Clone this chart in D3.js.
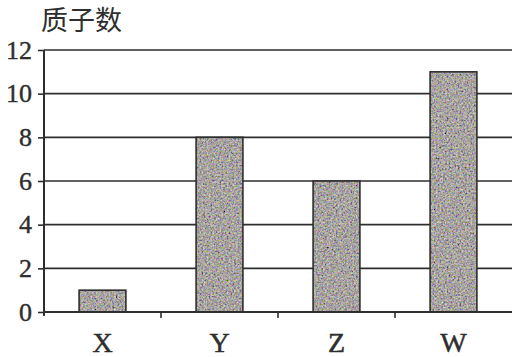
<!DOCTYPE html>
<html>
<head>
<meta charset="utf-8">
<script src="https://cdn.jsdelivr.net/npm/d3@7"></script>
<style>
    html, body { margin: 0; padding: 0; background: #fff; }
</style>
</head>
<body>
<div id="chart-container"></div>
<script>
// Data
const categories = ["X", "Y", "Z", "W"];
const protonCounts = [1, 8, 6, 11];
const yTicks = [0, 2, 4, 6, 8, 10, 12];
const yTitle = "质子数";

function renderChart() {
    const width = 515;
    const height = 357;
    const marginTop = 50;
    const marginRight = 3;
    const marginBottom = 45;
    const marginLeft = 44;
    const ink = "#2e2e2e";
    const serif = "'Liberation Serif', 'DejaVu Serif', serif";

    const svg = d3.create("svg")
        .attr("viewBox", [0, 0, width, height])
        .attr("width", width)
        .attr("height", height);

    // Grainy fill for the bars (coloured noise clipped to the rect)
    const defs = svg.append("defs");
    const grain = defs.append("filter")
        .attr("id", "grain")
        .attr("x", 0).attr("y", 0)
        .attr("width", 1).attr("height", 1);
    grain.append("feTurbulence")
        .attr("type", "fractalNoise")
        .attr("baseFrequency", 0.55)
        .attr("numOctaves", 3)
        .attr("seed", 7)
        .attr("result", "noise");
    grain.append("feColorMatrix")
        .attr("in", "noise")
        .attr("type", "matrix")
        .attr("values", "0.9 0.4 0 0 -0.26  0.2 0.9 0.2 0 -0.28  0.3 0 0.9 0 -0.24  0 0 0 0 1")
        .attr("result", "tint");
    grain.append("feComposite")
        .attr("in", "tint")
        .attr("in2", "SourceGraphic")
        .attr("operator", "in");

    const x = d3.scaleBand()
        .domain(categories)
        .range([marginLeft, width - marginRight])
        .paddingInner(0.6)
        .paddingOuter(0.3);

    const y = d3.scaleLinear([0, 12], [height - marginBottom, marginTop]);

    // Y ticks and labels
    svg.append("g")
        .attr("transform", `translate(${marginLeft},0)`)
        .call(d3.axisLeft(y).tickValues(yTicks).tickSize(6).tickPadding(6))
        .call(g => g.select(".domain").remove())
        .call(g => g.selectAll(".tick line").attr("stroke", ink).attr("stroke-width", 1.6))
        .call(g => g.selectAll(".tick text")
            .attr("fill", ink)
            .attr("stroke", ink)
            .attr("stroke-width", 0.4)
            .attr("font-family", serif)
            .attr("font-size", "26px"));

    // Gridlines
    svg.append("g")
        .selectAll("line")
        .data(yTicks.filter(d => d > 0))
        .join("line")
        .attr("x1", marginLeft)
        .attr("x2", width - marginRight)
        .attr("y1", d => y(d))
        .attr("y2", d => y(d))
        .attr("stroke", ink)
        .attr("stroke-width", 1.6);

    // Bars
    svg.append("g")
        .selectAll("rect")
        .data(protonCounts)
        .join("rect")
        .attr("x", (d, i) => x(categories[i]))
        .attr("y", d => y(d))
        .attr("width", x.bandwidth())
        .attr("height", d => y(0) - y(d))
        .attr("fill", "#888")
        .attr("filter", "url(#grain)");

    svg.append("g")
        .selectAll("rect")
        .data(protonCounts)
        .join("rect")
        .attr("x", (d, i) => x(categories[i]))
        .attr("y", d => y(d))
        .attr("width", x.bandwidth())
        .attr("height", d => y(0) - y(d))
        .attr("fill", "none")
        .attr("stroke", ink)
        .attr("stroke-width", 1.6);

    // X axis with ticks between categories
    const xAxis = d3.axisBottom(x).tickSize(0).tickPadding(20);
    svg.append("g")
        .attr("transform", `translate(0,${y(0)})`)
        .call(xAxis)
        .call(g => g.select(".domain")
            .attr("d", `M${marginLeft},0H${width - marginRight}`)
            .attr("stroke", ink)
            .attr("stroke-width", 2))
        .call(g => g.selectAll(".tick text")
            .attr("fill", ink)
            .attr("stroke", ink)
            .attr("stroke-width", 0.5)
            .attr("font-family", serif)
            .attr("font-size", "28px"));

    svg.append("g")
        .selectAll("line")
        .data(categories.slice(1))
        .join("line")
        .attr("x1", d => x(d) - x.step() * x.paddingInner() / 2)
        .attr("x2", d => x(d) - x.step() * x.paddingInner() / 2)
        .attr("y1", y(0))
        .attr("y2", y(0) + 6)
        .attr("stroke", ink)
        .attr("stroke-width", 1.6);

    // Y axis line
    svg.append("line")
        .attr("x1", marginLeft)
        .attr("x2", marginLeft)
        .attr("y1", y(12))
        .attr("y2", y(0) + 4)
        .attr("stroke", ink)
        .attr("stroke-width", 2);

    // Axis title
    svg.append("text")
        .attr("x", 41)
        .attr("y", 30)
        .attr("fill", ink)
        .attr("font-family", "'Noto Sans CJK SC', sans-serif")
        .attr("font-size", "27px")
        .text(yTitle);

    document.getElementById("chart-container").appendChild(svg.node());
}

renderChart();
</script>
</body>
</html>
